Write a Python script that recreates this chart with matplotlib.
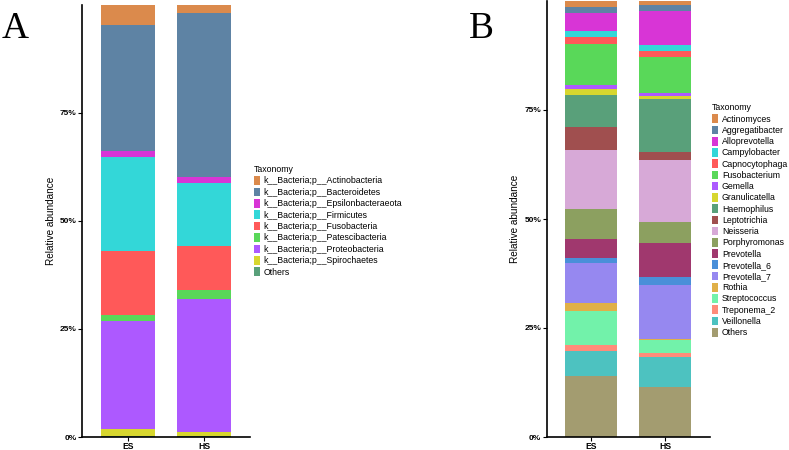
import numpy as np
import matplotlib
matplotlib.use('Agg')
from matplotlib import pyplot as plt
from matplotlib.patches import Patch
from matplotlib.ticker import FuncFormatter

plt.rcParams['font.family'] = ['Liberation Sans', 'DejaVu Sans']

groups = ['ES', 'HS']

# panel A - phylum level (percent, top of stack first)
phyla = ['k__Bacteria;p__Actinobacteria', 'k__Bacteria;p__Bacteroidetes',
         'k__Bacteria;p__Epsilonbacteraeota', 'k__Bacteria;p__Firmicutes',
         'k__Bacteria;p__Fusobacteria', 'k__Bacteria;p__Patescibacteria',
         'k__Bacteria;p__Proteobacteria', 'k__Bacteria;p__Spirochaetes', 'Others']
phyla_es = [4.6, 29.2, 1.5, 21.7, 14.7, 1.5, 24.8, 1.6, 0.3]
phyla_hs = [1.9, 38.0, 1.3, 14.5, 10.1, 2.2, 30.7, 0.85, 0.3]
phyla_colors = ['#DB8A4C', '#5E83A4', '#D835D6', '#33D7D8', '#FF5959',
                '#59D859', '#AD59FF', '#D7D72F', '#59A07A']

# panel B - genus level
genera = ['Actinomyces', 'Aggregatibacter', 'Alloprevotella', 'Campylobacter',
          'Capnocytophaga', 'Fusobacterium', 'Gemella', 'Granulicatella',
          'Haemophilus', 'Leptotrichia', 'Neisseria', 'Porphyromonas',
          'Prevotella', 'Prevotella_6', 'Prevotella_7', 'Rothia',
          'Streptococcus', 'Treponema_2', 'Veillonella', 'Others']
genera_es = [1.37, 1.30, 4.20, 1.45, 1.60, 9.24, 1.07, 1.30, 7.33, 5.35,
             13.52, 6.80, 4.43, 1.15, 9.01, 1.76, 7.79, 1.53, 5.58, 14.06]
genera_hs = [0.92, 1.30, 7.94, 1.30, 1.45, 8.10, 0.76, 0.69, 12.22, 1.83,
             14.13, 4.81, 7.79, 1.83, 12.22, 0.38, 2.98, 0.76, 7.03, 11.38]
genera_colors = ['#DB8A4C', '#5E83A4', '#D835D6', '#33D7D8', '#FF5959',
                 '#59D859', '#AD59FF', '#D7D72F', '#59A07A', '#A04F4F',
                 '#D7A9D7', '#8CA060', '#A0386E', '#4A8FD9', '#9688F0',
                 '#E0B048', '#72F2AA', '#FF8C7A', '#4DC2C0', '#A39C70']


def draw_panel(ax, names, es, hs, colors, label_x):
    vals = np.array([es, hs], dtype=float).T
    vals = vals / vals.sum(axis=0)
    x = np.arange(1, len(groups) + 1)
    bottom = np.zeros(len(groups))
    for i in range(len(names) - 1, -1, -1):
        ax.bar(x, vals[i], 0.7, bottom=bottom, color=colors[i], linewidth=0)
        bottom += vals[i]
    ax.set_xlim(0.4, 2.6)
    ax.set_ylim(0, 1)
    ax.set_xticks(x)
    ax.set_xticklabels(groups, fontsize=6.2, fontweight='bold')
    ax.set_yticks([0, 0.25, 0.5, 0.75])
    ax.yaxis.set_major_formatter(FuncFormatter(lambda v, p: '%d%%' % round(v * 100)))
    for t in ax.get_yticklabels():
        t.set_fontweight('bold')
    ax.tick_params(axis='y', labelsize=6, length=3, width=0.8, pad=1)
    ax.tick_params(axis='x', length=3, width=0.8, pad=0.5)
    for s in ['top', 'right']:
        ax.spines[s].set_visible(False)
    for s in ['left', 'bottom']:
        ax.spines[s].set_linewidth(1.2)
    ax.set_ylabel('Relative abundance', fontsize=7.2)
    ax.yaxis.set_label_coords(label_x, 0.5)


fig = plt.figure(figsize=(7.89, 4.5), dpi=100)
axA = fig.add_axes([82 / 789, 13 / 450, 168 / 789, 432.4 / 450])
axB = fig.add_axes([546.7 / 789, 13 / 450, 163.3 / 789, 436 / 450])

draw_panel(axA, phyla, phyla_es, phyla_hs, phyla_colors, -0.155)
draw_panel(axB, genera, genera_es, genera_hs, genera_colors, -0.163)

for names, colors, anchor, ls in [(phyla, phyla_colors, (254 / 789, 1 - 165 / 450), 0.24),
                                  (genera, genera_colors, (712 / 789, 1 - 103.5 / 450), 0.22)]:
    handles = [Patch(facecolor=c, edgecolor='none') for c in colors]
    fig.legend(handles, names, loc='upper left', bbox_to_anchor=anchor,
               frameon=False, fontsize=6.3, title='Taxonomy',
               title_fontsize=6.3, handlelength=0.67, handleheight=1.15,
               handletextpad=0.45, labelspacing=ls, borderpad=0,
               borderaxespad=0, alignment='left')

fig.text(15 / 789, 1 - 29 / 450, 'A', fontsize=27, family='Liberation Serif',
         ha='center', va='center')
fig.text(481 / 789, 1 - 29 / 450, 'B', fontsize=27, family='Liberation Serif',
         ha='center', va='center')

fig.savefig('out.png', dpi=100)
